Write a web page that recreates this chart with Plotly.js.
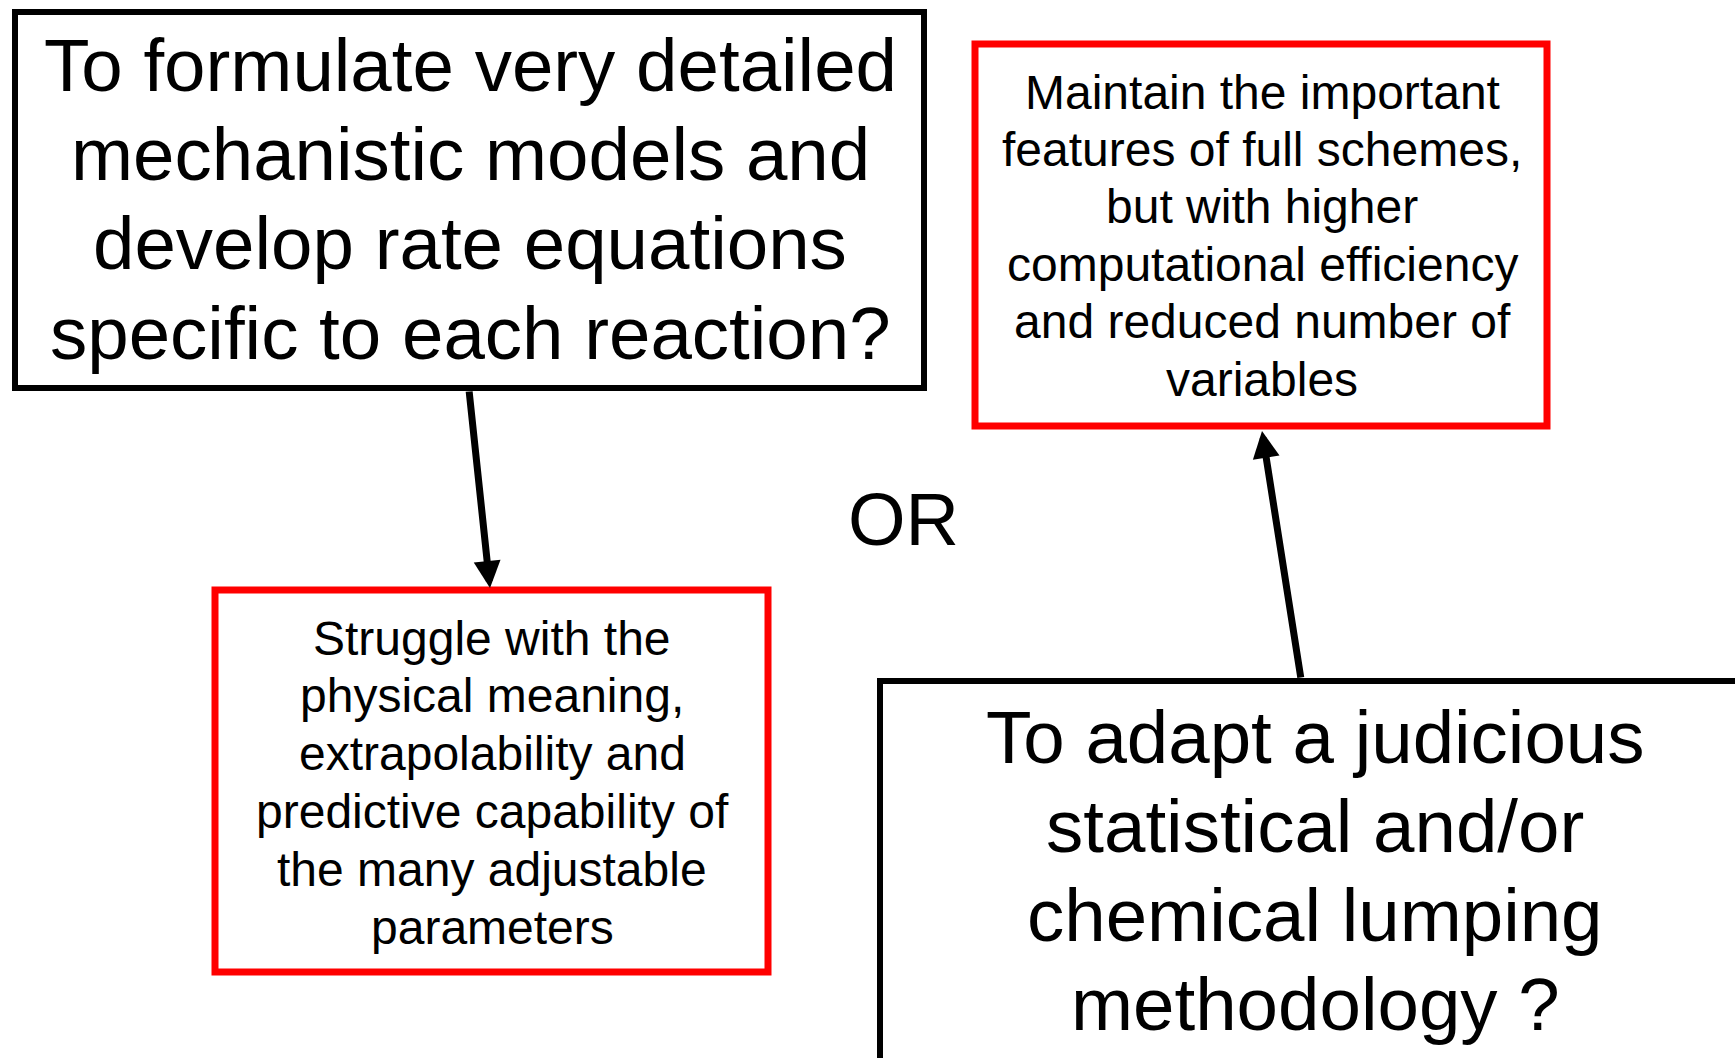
<!DOCTYPE html>
<html>
<head>
<meta charset="utf-8">
<script src="https://cdn.plot.ly/plotly-3.0.1.min.js"></script>
<style>html,body{margin:0;padding:0;background:#fff;overflow:hidden}#chart{width:1735px;height:1058px}</style>
</head>
<body>
<div id="chart"></div>
<script>
// Box texts (content)
var boxTexts = [
  ["To formulate very detailed", "mechanistic models and", "develop rate equations", "specific to each reaction?"],
  ["Maintain the important", "features of full schemes,", "but with higher", "computational efficiency", "and reduced number of", "variables"],
  ["Struggle with the", "physical meaning,", "extrapolability and", "predictive capability of", "the many adjustable", "parameters"],
  ["To adapt a judicious", "statistical and/or", "chemical lumping", "methodology ?"]
];
var connectorLabel = "OR";
// arrows: from box index -> to box index
var arrowFrom = [0, 3];
var arrowTo = [2, 1];

// Layout geometry (pixel coordinates of the page)
var boxX0 = [15, 975, 215, 880];
var boxX1 = [924, 1547, 768, 1780];
var boxY0 = [12, 44, 590, 681];
var boxY1 = [388, 426, 972, 1120];
var boxColor = ["#000000", "#ff0000", "#ff0000", "#000000"];
var boxLineW = [6, 7, 7, 6];
var textCX = [470, 1262, 492, 1315];
var firstLineCY = [65, 92, 638, 737];
var lineStep = [89.4, 57.4, 57.8, 89.3];
var textSize = [74.5, 48, 48, 74.5];
var arrowTail = [[469, 390], [1301, 679]];
var arrowTip = [[490, 588], [1262, 431]];
var fontFam = "Liberation Sans, Arial, sans-serif";

var shapes = [];
var annotations = [];
for (var i = 0; i < boxTexts.length; i++) {
  shapes.push({type: "rect", xref: "x", yref: "y", x0: boxX0[i], x1: boxX1[i], y0: boxY0[i], y1: boxY1[i],
    line: {color: boxColor[i], width: boxLineW[i]}, fillcolor: "rgba(0,0,0,0)"});
  for (var k = 0; k < boxTexts[i].length; k++) {
    annotations.push({xref: "x", yref: "y", x: textCX[i], y: firstLineCY[i] + k * lineStep[i],
      xanchor: "center", yanchor: "middle", align: "center", showarrow: false,
      text: boxTexts[i][k], font: {family: fontFam, size: textSize[i], color: "#000"}});
  }
}
for (var j = 0; j < arrowFrom.length; j++) {
  annotations.push({xref: "x", yref: "y", axref: "x", ayref: "y",
    x: arrowTip[j][0], y: arrowTip[j][1], ax: arrowTail[j][0], ay: arrowTail[j][1],
    text: "", showarrow: true, arrowhead: 2, arrowsize: 0.77, arrowwidth: 7, arrowcolor: "#000", standoff: 0, startstandoff: 0});
}
annotations.push({xref: "x", yref: "y", x: 903, y: 519, xanchor: "center", yanchor: "middle", showarrow: false,
  text: connectorLabel, font: {family: fontFam, size: 74, color: "#000"}});

var layout = {
  width: 1735, height: 1058,
  margin: {l: 0, r: 0, t: 0, b: 0},
  paper_bgcolor: "#fff", plot_bgcolor: "#fff",
  xaxis: {range: [0, 1735], visible: false, fixedrange: true},
  yaxis: {range: [1058, 0], visible: false, fixedrange: true},
  shapes: shapes, annotations: annotations, showlegend: false
};
Plotly.newPlot("chart", [], layout, {staticPlot: true, displayModeBar: false});
</script>
</body>
</html>
